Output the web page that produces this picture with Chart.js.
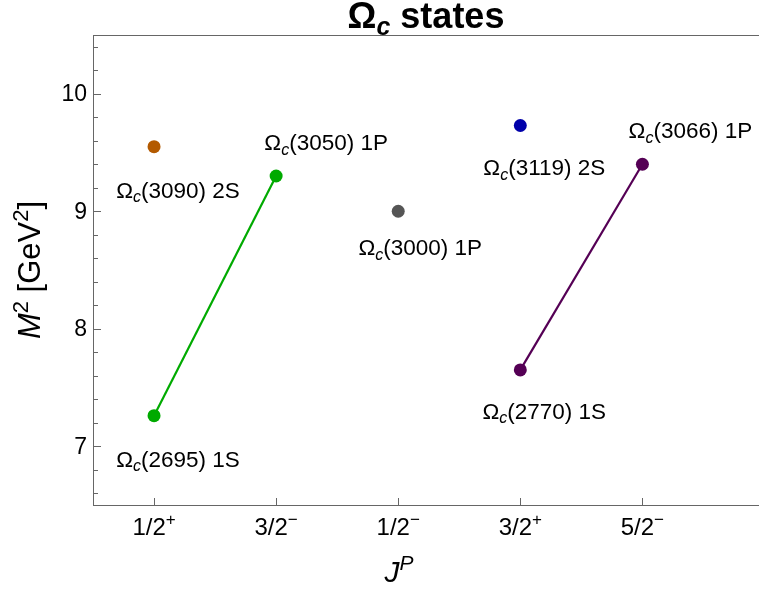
<!DOCTYPE html>
<html>
<head>
<meta charset="utf-8">
<script src="https://cdn.jsdelivr.net/npm/chart.js@4.4.1/dist/chart.umd.min.js"></script>
<style>
  html, body { margin: 0; padding: 0; background: #fff; overflow: hidden; }
</style>
</head>
<body>
<canvas id="chart" width="759" height="590"></canvas>
<script>
// J^P categories along the x axis (index = x value)
const jpFractions = ['1/2', '3/2', '1/2', '3/2', '5/2'];
const jpParity = ['+', '\u2212', '\u2212', '+', '\u2212'];

// y axis ticks: labelled majors and unlabelled minors
const yMajor = [7, 8, 9, 10];
const yMinor = [6.6, 6.8, 7.2, 7.4, 7.6, 7.8, 8.2, 8.4, 8.6, 8.8, 9.2, 9.4, 9.6, 9.8, 10.2, 10.4];

// M^2 [GeV^2] per state
const orangeX = [0];     const orangeM2 = [9.55];        // Omega_c(3090)
const greenX = [0, 1];   const greenM2 = [7.26, 9.30];   // Omega_c(2695), Omega_c(3050)
const grayX = [2];       const grayM2 = [9.00];          // Omega_c(3000)
const blueX = [3];       const blueM2 = [9.73];          // Omega_c(3119)
const purpleX = [3, 4];  const purpleM2 = [7.65, 9.40];  // Omega_c(2770), Omega_c(3066)

// annotation text, in the same order as the points above
const stateMass = ['3090', '2695', '3050', '3000', '3119', '2770', '3066'];
const stateWave = ['2S', '1S', '1P', '1P', '2S', '1S', '1P'];

const FONT = '"Liberation Sans", Arial, sans-serif';
const AXIS = '#666';

const pts = (xs, ys) => xs.map((x, i) => ({ x, y: ys[i] }));

function fontFor(st, size) {
  const small = st.sub || st.sup;
  const px = small ? Math.round(size * 0.7) : size;
  return (st.i ? 'italic ' : '') + (st.b ? 'bold ' : '') + px + 'px ' + FONT;
}
function shiftFor(st, size) {
  if (st.sub) return size * 0.2;
  if (st.sup) return -size * 0.4;
  return 0;
}
function richWidth(ctx, parts, size) {
  let w = 0;
  for (const [t, st] of parts) { ctx.font = fontFor(st, size); w += ctx.measureText(t).width; }
  return w;
}
function drawRich(ctx, parts, x, y, size, align) {
  const w = richWidth(ctx, parts, size);
  let cx = align === 'center' ? x - w / 2 : align === 'right' ? x - w : x;
  ctx.textAlign = 'left';
  ctx.textBaseline = 'alphabetic';
  for (const [t, st] of parts) {
    ctx.font = fontFor(st, size);
    ctx.fillText(t, cx, y + shiftFor(st, size));
    cx += ctx.measureText(t).width;
  }
}
const N = {}, I = { i: 1 }, SUBI = { i: 1, sub: 1 }, SUP = { sup: 1 };
const omega = (mass, wave) => [['\u03A9', N], ['c', SUBI], ['(' + mass + ') ' + wave, N]];

// where each label sits relative to its dot: [dx of text centre, dy of baseline], px
const labelOffsets = [[24, 51], [24, 51], [50, -26], [22, 44], [24, 50], [24, 49], [48, -26]];

const isMajor = v => yMajor.includes(v);

const decor = {
  id: 'decor',
  afterDraw(chart) {
    const { ctx, chartArea: a, scales: { x, y } } = chart;
    ctx.save();
    // frame (left, bottom, top)
    ctx.strokeStyle = AXIS;
    ctx.lineWidth = 1;
    ctx.beginPath();
    ctx.moveTo(a.left + 0.5, a.top); ctx.lineTo(a.left + 0.5, a.bottom);
    ctx.moveTo(a.left, a.bottom + 0.5); ctx.lineTo(a.right, a.bottom + 0.5);
    ctx.moveTo(a.left, a.top + 0.5); ctx.lineTo(a.right, a.top + 0.5);
    ctx.stroke();

    // inward y ticks, longer on majors
    ctx.beginPath();
    y.ticks.forEach(t => {
      const py = Math.round(y.getPixelForValue(t.value)) + 0.5;
      ctx.moveTo(a.left, py); ctx.lineTo(a.left + (isMajor(t.value) ? 8 : 5), py);
    });
    // inward x ticks at categories
    x.ticks.forEach(t => {
      const px = Math.round(x.getPixelForValue(t.value)) + 0.5;
      ctx.moveTo(px, a.bottom); ctx.lineTo(px, a.bottom - 7);
    });
    ctx.stroke();

    ctx.fillStyle = '#000';
    // y tick labels (majors only)
    ctx.font = '23px ' + FONT;
    ctx.textAlign = 'right';
    ctx.textBaseline = 'middle';
    y.ticks.forEach(t => {
      if (isMajor(t.value)) ctx.fillText(String(t.value), a.left - 6, y.getPixelForValue(t.value) + 1);
    });

    // x tick labels with parity superscript
    x.ticks.forEach(t => {
      drawRich(ctx, [[jpFractions[t.value], N], [jpParity[t.value], SUP]],
        x.getPixelForValue(t.value), 535, 24, 'center');
    });

    // state labels
    const all = [].concat(pts(orangeX, orangeM2), pts(greenX, greenM2), pts(grayX, grayM2),
      pts(blueX, blueM2), pts(purpleX, purpleM2));
    all.forEach((p, i) => {
      const [dx, dy] = labelOffsets[i];
      drawRich(ctx, omega(stateMass[i], stateWave[i]), x.getPixelForValue(p.x) + dx,
        y.getPixelForValue(p.y) + dy, 22.5, 'center');
    });

    // title
    drawRich(ctx, [['\u03A9', { b: 1 }], ['c', { b: 1, i: 1, sub: 1 }], [' states', { b: 1 }]],
      426, 28, 36, 'center');

    // axis titles
    drawRich(ctx, [['J', I], ['P', { i: 1, sup: 1 }]], 399, 582, 30, 'center');
    ctx.translate(40, 270);
    ctx.rotate(-Math.PI / 2);
    drawRich(ctx, [['M', I], ['2', SUP], [' [GeV', N], ['2', SUP], [']', N]], 0, 0, 31, 'center');
    ctx.restore();
  }
};

const dot = (label, color, data, line) => ({
  label, data, showLine: !!line,
  borderColor: color, backgroundColor: color,
  pointBackgroundColor: color, pointBorderWidth: 0,
  pointRadius: 6.5, pointHoverRadius: 6.5, borderWidth: 2.2
});

new Chart(document.getElementById('chart'), {
  type: 'scatter',
  data: {
    datasets: [
      dot('Omega_c(3090)', '#b35a00', pts(orangeX, orangeM2)),
      dot('Omega_c(2695)/(3050)', '#00aa00', pts(greenX, greenM2), true),
      dot('Omega_c(3000)', '#555555', pts(grayX, grayM2)),
      dot('Omega_c(3119)', '#0000aa', pts(blueX, blueM2)),
      dot('Omega_c(2770)/(3066)', '#550055', pts(purpleX, purpleM2), true)
    ]
  },
  options: {
    responsive: false,
    animation: false,
    devicePixelRatio: 1,
    layout: { autoPadding: false, padding: { top: 35, left: 0, right: 0, bottom: 0 } },
    plugins: { legend: { display: false }, title: { display: false }, tooltip: { enabled: false } },
    scales: {
      x: {
        type: 'linear', min: -0.5, max: 4.955,
        grid: { display: false, drawTicks: false }, border: { display: false },
        ticks: { display: false },
        afterBuildTicks: s => { s.ticks = jpFractions.map((_, i) => ({ value: i })); },
        afterFit: s => { s.height = 85; }
      },
      y: {
        type: 'linear', min: 6.5, max: 10.5,
        grid: { display: false, drawTicks: false }, border: { display: false },
        ticks: { display: false },
        afterBuildTicks: s => { s.ticks = yMajor.concat(yMinor).map(v => ({ value: v })); },
        afterFit: s => { s.width = 93; }
      }
    }
  },
  plugins: [decor]
});
</script>
</body>
</html>
